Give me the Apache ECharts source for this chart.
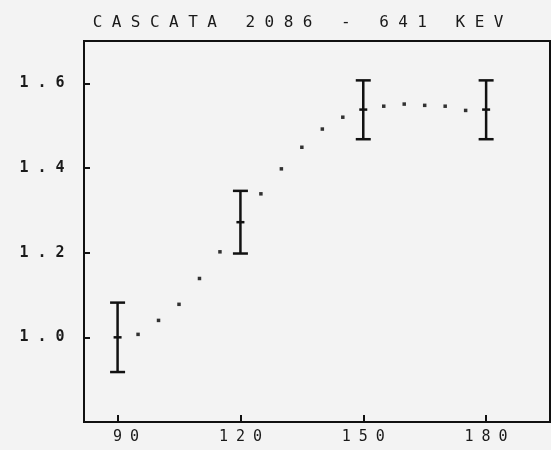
<!DOCTYPE html>
<html>
<head>
<meta charset="utf-8">
<script src="https://cdn.jsdelivr.net/npm/echarts@6/dist/echarts.min.js"></script>
<style>html,body{margin:0;padding:0;background:#f3f3f3;}#c{width:551px;height:450px;}</style>
</head>
<body>
<div id="c"></div>
<script>
var titleText = 'CASCATA 2086 - 641 KEV';
// measured points (angle, ratio) with error bars
var angles = [90, 120, 150, 180];
var values = [1.0, 1.272, 1.538, 1.538];
var errLow = [0.918, 1.198, 1.468, 1.468];
var errHigh = [1.082, 1.346, 1.607, 1.607];
// dotted fit curve
var fitX = [95, 100, 105, 110, 115, 125, 130, 135, 140, 145, 155, 160, 165, 170, 175];
var fitY = [1.007, 1.040, 1.078, 1.139, 1.202, 1.339, 1.398, 1.449, 1.492, 1.520, 1.546, 1.551, 1.548, 1.546, 1.536];
var xTicks = [90, 120, 150, 180];
var yTicks = [1.0, 1.2, 1.4, 1.6];

function spaced(s, style) {
  return s.split('').map(function (ch) { return '{' + style + '|' + ch + '}'; }).join('');
}

var chart = echarts.init(document.getElementById('c'));
var fontFam = 'DejaVu Sans Mono';
chart.setOption({
  backgroundColor: '#f3f3f3',
  animation: false,
  title: {
    text: spaced(titleText, 't'),
    left: 293, top: 10, textAlign: 'center',
    textStyle: {
      fontWeight: 'normal',
      rich: { t: { width: 19.1, align: 'center', fontFamily: fontFam, fontSize: 16, fontWeight: 'normal', color: '#1a1a1a' } }
    }
  },
  grid: { left: 84, right: 1, top: 41, bottom: 28, show: true, borderColor: '#111', borderWidth: 2, backgroundColor: 'transparent' },
  xAxis: {
    type: 'value', min: 81.8, max: 195.6,
    axisLine: { lineStyle: { color: '#111', width: 2 } },
    splitLine: { show: false },
    axisTick: { inside: true, length: 7, customValues: xTicks, lineStyle: { color: '#111', width: 2 } },
    axisLabel: {
      customValues: xTicks, margin: 8,
      formatter: function (v) { var s = String(v); if (s.length < 3) s = ' ' + s; return spaced(s, 'x'); },
      rich: { x: { width: 17, align: 'center', fontFamily: fontFam, fontSize: 15, color: '#1a1a1a' } }
    }
  },
  yAxis: {
    type: 'value', min: 0.8, max: 1.7,
    axisLine: { show: true, lineStyle: { color: '#111', width: 2 } },
    splitLine: { show: false },
    axisTick: { inside: true, length: 6, customValues: yTicks, lineStyle: { color: '#111', width: 2 } },
    axisLabel: {
      customValues: yTicks, margin: 15,
      formatter: function (v) { return spaced(v.toFixed(1), 'y'); },
      rich: { y: { width: 18, align: 'center', fontFamily: fontFam, fontSize: 15, fontWeight: 'bold', color: '#1a1a1a' } }
    }
  },
  series: [
    {
      type: 'scatter',
      data: fitX.map(function (x, i) { return [x, fitY[i]]; }),
      symbol: 'rect', symbolSize: 3.5,
      itemStyle: { color: '#000' }
    },
    {
      type: 'custom',
      data: angles.map(function (a, i) { return [a, values[i], errLow[i], errHigh[i]]; }),
      renderItem: function (params, api) {
        var x = api.value(0);
        var c = api.coord([x, api.value(1)]);
        var lo = api.coord([x, api.value(2)]);
        var hi = api.coord([x, api.value(3)]);
        var cap = 7.5, mid = 4;
        var st = { stroke: '#111', lineWidth: 2.5 };
        return {
          type: 'group',
          children: [
            { type: 'line', shape: { x1: c[0], y1: hi[1], x2: c[0], y2: lo[1] }, style: st },
            { type: 'line', shape: { x1: c[0] - cap, y1: hi[1], x2: c[0] + cap, y2: hi[1] }, style: st },
            { type: 'line', shape: { x1: c[0] - cap, y1: lo[1], x2: c[0] + cap, y2: lo[1] }, style: st },
            { type: 'line', shape: { x1: c[0] - mid, y1: c[1], x2: c[0] + mid, y2: c[1] }, style: st }
          ]
        };
      }
    }
  ]
});
</script>
</body>
</html>
